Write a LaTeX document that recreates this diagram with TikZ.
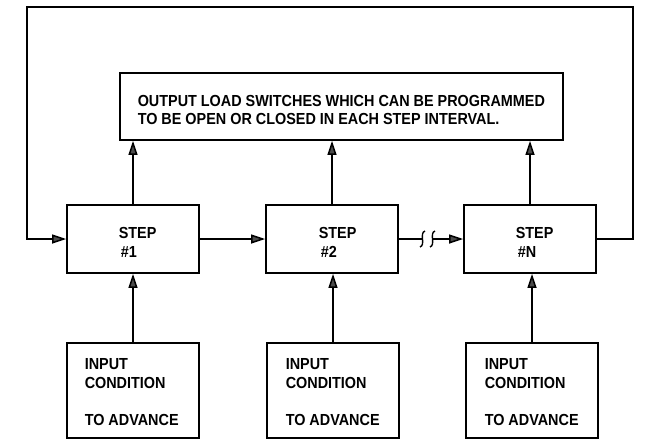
\documentclass[tikz,border=0pt]{standalone}
\usepackage{fontspec}
\setmainfont{Liberation Sans}[FakeStretch=0.9]
\usetikzlibrary{arrows.meta}
\begin{document}
\begin{tikzpicture}[x=1pt,y=-1pt, line width=1.5pt,
  box/.style={draw, rectangle, inner sep=0pt, line width=1.8pt},
  txt/.style={anchor=base west, inner sep=0pt, font=\bfseries\fontsize{16}{18}\selectfont},
  arr/.style={-{Triangle[length=14pt,width=9pt,fill=black!70]}}]
\useasboundingbox (0,0) rectangle (650,440);
\fill[white] (0,0) rectangle (650,440);

% boxes
\node[box, minimum width=443pt, minimum height=67pt] (out) at (341.5,106.5) {};
\node[box, minimum width=132pt, minimum height=68pt] (s1) at (133,239) {};
\node[box, minimum width=132pt, minimum height=68pt] (s2) at (332,239) {};
\node[box, minimum width=132pt, minimum height=68pt] (sN) at (530,239) {};
\node[box, minimum width=132pt, minimum height=95pt] (i1) at (133,390.5) {};
\node[box, minimum width=132pt, minimum height=95pt] (i2) at (333,390.5) {};
\node[box, minimum width=132pt, minimum height=95pt] (i3) at (532,390.5) {};

% texts
\node[txt] (o1) at (137,106) {OUTPUT LOAD SWITCHES WHICH CAN BE PROGRAMMED};
\node[txt] (o2) at (137,124) {TO BE OPEN OR CLOSED IN EACH STEP INTERVAL.};

\node[txt] (s1a) at (118,238) {STEP};
\node[txt] (s1b) at (120,257) {\#1};
\node[txt] (s2a) at (318,238) {STEP};
\node[txt] (s2b) at (320,257) {\#2};
\node[txt] (sNa) at (515,238) {STEP};
\node[txt] (sNb) at (517,257) {\#N};

\node[txt] (i1a) at (84,369) {INPUT};
\node[txt] (i1b) at (84,388) {CONDITION};
\node[txt] (i1c) at (84,425) {TO ADVANCE};
\node[txt] (i2a) at (285,369) {INPUT};
\node[txt] (i2b) at (285,388) {CONDITION};
\node[txt] (i2c) at (285,425) {TO ADVANCE};
\node[txt] (i3a) at (484,369) {INPUT};
\node[txt] (i3b) at (484,388) {CONDITION};
\node[txt] (i3c) at (484,425) {TO ADVANCE};

% step -> output
\draw[arr] (s1.north) -- (s1.north |- out.south);
\draw[arr] (s2.north) -- (s2.north |- out.south);
\draw[arr] (sN.north) -- (sN.north |- out.south);

% input -> step
\draw[arr] (i1.north) -- (i1.north |- s1.south);
\draw[arr] (i2.north) -- (i2.north |- s2.south);
\draw[arr] (i3.north) -- (i3.north |- sN.south);

% step chain
\draw[arr] (s1.east) -- (s2.west);
\coordinate (br1) at (422,239);
\coordinate (br2) at (433,239);
\draw (s2.east) -- (br1);
\draw[arr] (br2) -- (sN.west);
\draw[line width=1.4pt] (425,231) .. controls (419,233) and (426,245) .. (420,247);
\draw[line width=1.4pt] (435,231) .. controls (429,233) and (436,245) .. (430,247);

% feedback loop
\coordinate (lt) at (27,7);
\coordinate (rt) at (633,7);
\draw[arr] (sN.east) -- (sN.east -| rt) -- (rt) -- (lt) -- (lt |- s1.west) -- (s1.west);
\end{tikzpicture}
\end{document}
